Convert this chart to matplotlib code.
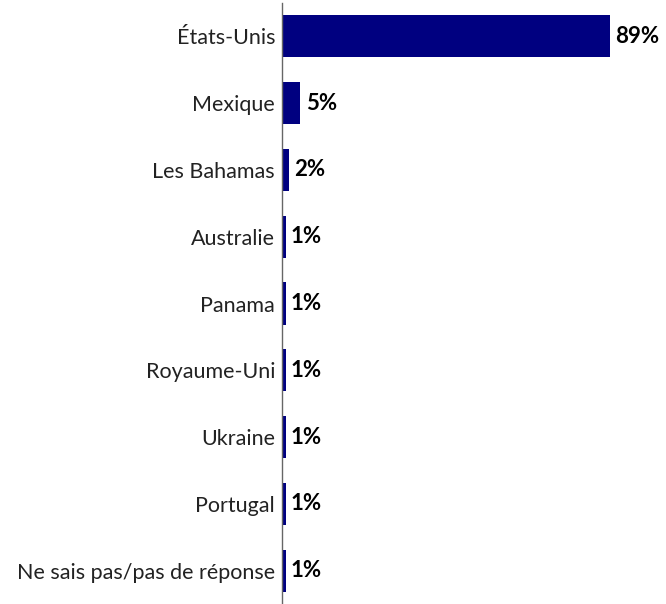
import matplotlib
matplotlib.use("Agg")
import matplotlib.pyplot as plt

categories = ["États-Unis", "Mexique", "Les Bahamas", "Australie", "Panama",
              "Royaume-Uni", "Ukraine", "Portugal", "Ne sais pas/pas de réponse"]
values = [89, 5, 2, 1, 1, 1, 1, 1, 1]
value_labels = ["89%", "5%", "2%", "1%", "1%", "1%", "1%", "1%", "1%"]

plt.rcParams["font.family"] = ["Lato", "DejaVu Sans"]

fig = plt.figure(figsize=(6.66, 6.04), dpi=100)
ax = fig.add_axes([0.4234, 0.0, 0.554, 0.995])

y = list(range(len(categories)))
ax.barh(y, values, height=0.63, color="#000080")
for yi, v, lab in zip(y, values, value_labels):
    ax.text(v + 1.4, yi, lab, va="center", ha="left", fontsize=16,
            fontweight="bold", color="black")

ax.set_ylim(len(categories) - 0.5, -0.5)
ax.set_xlim(0, 100)
ax.set_yticks(y)
ax.set_yticklabels(categories, fontsize=15.5, color="#222222")
ax.tick_params(axis="y", length=0, pad=5)
ax.set_xticks([])
for s in ["top", "right", "bottom"]:
    ax.spines[s].set_visible(False)
ax.spines["left"].set_color("#666666")
ax.spines["left"].set_linewidth(1.0)

fig.savefig("out.png", dpi=100)
